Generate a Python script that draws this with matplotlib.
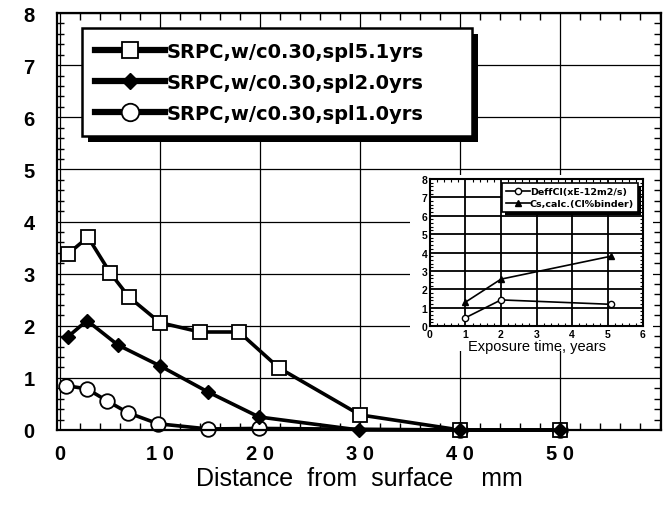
import numpy as np
import matplotlib
matplotlib.use("Agg")
import matplotlib.pyplot as plt
from matplotlib.patches import Rectangle
from matplotlib.ticker import MultipleLocator

plt.rcParams['font.family'] = ['Liberation Sans', 'DejaVu Sans']

# main chart data (distance mm, chloride)
x51 = [0.8, 2.8, 5.0, 6.9, 10.0, 14.0, 17.9, 21.9, 30.0, 40.0, 50.0]
y51 = [3.38, 3.70, 3.02, 2.55, 2.06, 1.88, 1.88, 1.19, 0.29, 0.0, 0.0]
x20 = [0.8, 2.7, 5.8, 10.0, 14.8, 19.9, 29.9, 40.0, 50.0]
y20 = [1.79, 2.10, 1.63, 1.23, 0.73, 0.25, 0.0, 0.0, 0.0]
x10 = [0.6, 2.7, 4.7, 6.8, 9.8, 14.8, 19.9, 40.0, 50.0]
y10 = [0.85, 0.79, 0.56, 0.33, 0.12, 0.02, 0.03, 0.0, 0.0]
labels = ['SRPC,w/c0.30,spl5.1yrs', 'SRPC,w/c0.30,spl2.0yrs', 'SRPC,w/c0.30,spl1.0yrs']
xticks = [0, 10, 20, 30, 40, 50]
xticklabels = ['0', '1 0', '2 0', '3 0', '4 0', '5 0']

# inset data
t_yrs = [1.0, 2.0, 5.1]
deff = [0.45, 1.42, 1.18]
cs = [1.3, 2.55, 3.8]
inset_labels = ['DeffCl(xE-12m2/s)', 'Cs,calc.(Cl%binder)']

fig = plt.figure(figsize=(6.72, 5.06), dpi=100)
ax = fig.add_axes([57/672, 1-431/506, 604/672, 417/506])

l1, = ax.plot(x51, y51, '-s', color='black', lw=2.6, ms=10, mfc='white', mec='black', mew=1.3, clip_on=False, zorder=3)
l2, = ax.plot(x20, y20, '-D', color='black', lw=2.6, ms=7, mfc='black', clip_on=False, zorder=4)
l3, = ax.plot(x10, y10, '-o', color='black', lw=2.6, ms=10.5, mfc='white', mec='black', mew=1.3, clip_on=False, zorder=2)

ax.set_xlim(-0.3, 60.1)
ax.set_ylim(0, 8)
ax.set_xticks(xticks)
ax.set_xticklabels(xticklabels)
ax.set_yticks(range(0, 9))
ax.xaxis.set_minor_locator(MultipleLocator(2))
ax.yaxis.set_minor_locator(MultipleLocator(0.2))
ax.grid(True, which='major', color='black', lw=0.9)
ax.set_axisbelow(True)
ax.tick_params(which='major', length=0, labelsize=14.5, pad=10)
ax.tick_params(axis='y', which='major', pad=16)
ax.tick_params(which='minor', direction='in', length=5, width=1, top=True, right=True)
for lab in ax.get_xticklabels() + ax.get_yticklabels():
    lab.set_fontweight('bold')
for s in ax.spines.values():
    s.set_linewidth(1.6)
ax.set_xlabel('Distance  from  surface    mm', fontsize=18, labelpad=2)

leg = ax.legend([l1, l2, l3], labels, loc='upper left', bbox_to_anchor=(0.041, 0.5, 0.646, 0.464),
                mode='expand', borderaxespad=0, fancybox=False, shadow=False,
                framealpha=1, edgecolor='black',
                prop={'family': 'DejaVu Sans', 'weight': 'bold', 'size': 14},
                handlelength=3.6, handletextpad=0.05, labelspacing=0.62, borderpad=0.7,
                markerscale=1.2)
leg.get_frame().set_linewidth(1.8)
leg.set_zorder(6)
for h in leg.legend_handles:
    h.set_linewidth(4.5)

# white cover behind the inset
fig.patches.append(Rectangle((410/672, 1-352/506), 243/672, 176/506, transform=fig.transFigure,
                             facecolor='white', edgecolor='none', zorder=1))

ins = fig.add_axes([430/672, 1-327/506, 213/672, 147/506])
ins.set_zorder(2)
a1, = ins.plot(t_yrs, deff, '-o', color='black', lw=1.2, ms=4.5, mfc='white', mec='black', clip_on=False)
a2, = ins.plot(t_yrs, cs, '-^', color='black', lw=1.2, ms=4, mfc='black', clip_on=False)
ins.set_xlim(0, 6)
ins.set_ylim(0, 8)
ins.set_xticks(range(0, 7))
ins.set_yticks(range(0, 9))
ins.xaxis.set_minor_locator(MultipleLocator(0.2))
ins.yaxis.set_minor_locator(MultipleLocator(0.2))
ins.grid(True, which='major', color='black', lw=1.3)
ins.tick_params(which='major', length=0, labelsize=7.5, pad=2)
ins.tick_params(which='minor', direction='in', length=2, width=0.8, top=True, right=True)
for lab in ins.get_xticklabels() + ins.get_yticklabels():
    lab.set_fontweight('bold')
for s in ins.spines.values():
    s.set_linewidth(1.5)
ins.set_xlabel('Exposure time, years', fontsize=10.5, labelpad=0)
ileg = ins.legend([a1, a2], inset_labels, loc='upper right', bbox_to_anchor=(0.975, 0.97),
                  borderaxespad=0, fancybox=False, shadow=False,
                  framealpha=1, edgecolor='black',
                  prop={'family': 'DejaVu Sans', 'weight': 'bold', 'size': 6.8},
                  handlelength=2.5, handletextpad=0.0, labelspacing=0.3, borderpad=0.4)
ileg.get_frame().set_linewidth(1.2)
ileg.set_zorder(6)

# solid black drop shadows behind the legend boxes
fig.canvas.draw()
for lg, axx, off in [(leg, ax, 6), (ileg, ins, 3)]:
    bb = lg.get_window_extent()
    axx.add_patch(Rectangle((bb.x0 + off, bb.y0 - off), bb.width, bb.height, transform=None,
                            facecolor='black', edgecolor='none', zorder=5, clip_on=False))

fig.savefig('out.png', dpi=100)
